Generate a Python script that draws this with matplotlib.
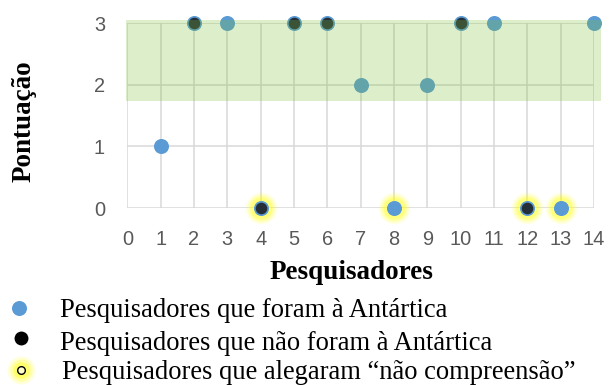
import numpy as np
import matplotlib.pyplot as plt
from matplotlib.lines import Line2D
from matplotlib.patches import Rectangle

# Pontuação de cada pesquisador (1 a 14)
pesquisadores = [1, 2, 3, 4, 5, 6, 7, 8, 9, 10, 11, 12, 13, 14]
pontuacao = [1, 3, 3, 0, 3, 3, 2, 0, 2, 3, 3, 0, 0, 3]

# Pesquisadores que não foram à Antártica
nao_foram_x = [2, 4, 5, 6, 10, 12]
nao_foram_y = [3, 0, 3, 3, 3, 0]

# Pesquisadores que alegaram "não compreensão"
nao_comp_x = [4, 8, 12, 13]
nao_comp_y = [0, 0, 0, 0]

# Faixa de destaque (pontuação alta)
faixa_y = (1.74, 3.05)
faixa_x = (-0.03, 14.2)

legenda = [
    "Pesquisadores que foram à Antártica",
    "Pesquisadores que não foram à Antártica",
    "Pesquisadores que alegaram \u201cnão compreensão\u201d",
]

azul = "#5B9BD5"
serif = "Liberation Serif"

fig = plt.figure(figsize=(6.11, 3.85), dpi=100)
ax = fig.add_axes([0.2084, 0.4597, 0.7638, 0.4805])

# brilho amarelo
for s, a in [(520, 0.10), (420, 0.12), (330, 0.16), (250, 0.25)]:
    ax.scatter(nao_comp_x, nao_comp_y, s=s, color="#FFFF00", alpha=a,
               linewidths=0, zorder=2, clip_on=False)

ax.scatter(pesquisadores, pontuacao, s=117, color=azul, linewidths=0,
           zorder=3, clip_on=False)
ax.scatter(nao_foram_x, nao_foram_y, s=70, color="#1c1c1c", alpha=0.85,
           linewidths=0, zorder=4, clip_on=False)

ax.add_patch(Rectangle((faixa_x[0], faixa_y[0]), faixa_x[1] - faixa_x[0],
                       faixa_y[1] - faixa_y[0], facecolor=(124/255, 190/255, 51/255),
                       alpha=0.26, linewidth=0, zorder=5, clip_on=False))

ax.set_xlim(0, 14)
ax.set_ylim(0, 3)
ax.set_xticks(np.arange(0, 15))
ax.set_yticks([0, 1, 2, 3])
ax.grid(True, color="#D9D9D9", linewidth=1.1)
ax.set_axisbelow(True)
for sp in ax.spines.values():
    sp.set_visible(False)
ax.tick_params(length=0, labelsize=14.4, labelcolor="#595959", pad=16)
ax.tick_params(axis="y", pad=16)
for lbl in ax.get_xticklabels() + ax.get_yticklabels():
    lbl.set_fontfamily("Liberation Sans")

ax.set_xlabel("Pesquisadores", fontsize=19.5, fontweight="bold", fontname=serif)
ax.xaxis.set_label_coords(0.48, -0.28)
ax.set_ylabel("Pontuação", fontsize=19.5, fontweight="bold", fontname=serif)
ax.yaxis.set_label_coords(-0.195, 0.47)

# legenda
leg_y = [0.200, 0.122, 0.039]
txt_y = [0.176, 0.091, 0.016]
fig.add_artist(Line2D([0.031], [leg_y[0]], marker="o", markersize=10.8,
                      color=azul, markeredgewidth=0, transform=fig.transFigure))
fig.add_artist(Line2D([0.034], [leg_y[1]], marker="o", markersize=10,
                      color="black", markeredgewidth=0, transform=fig.transFigure))
for s, a in [(20, 0.15), (16, 0.22), (12, 0.35)]:
    fig.add_artist(Line2D([0.034], [leg_y[2]], marker="o", markersize=s,
                          color="#FFFF00", alpha=a, markeredgewidth=0,
                          transform=fig.transFigure))
fig.add_artist(Line2D([0.034], [leg_y[2]], marker="o", markersize=5.5,
                      markerfacecolor="#FFFFCC", markeredgecolor="black",
                      markeredgewidth=1.0, transform=fig.transFigure))
for i, t in enumerate(legenda):
    fig.text(0.098 if i < 2 else 0.101, txt_y[i], t, fontsize=19.1,
             fontname=serif, va="baseline", ha="left")

fig.savefig("out.png", dpi=100)
